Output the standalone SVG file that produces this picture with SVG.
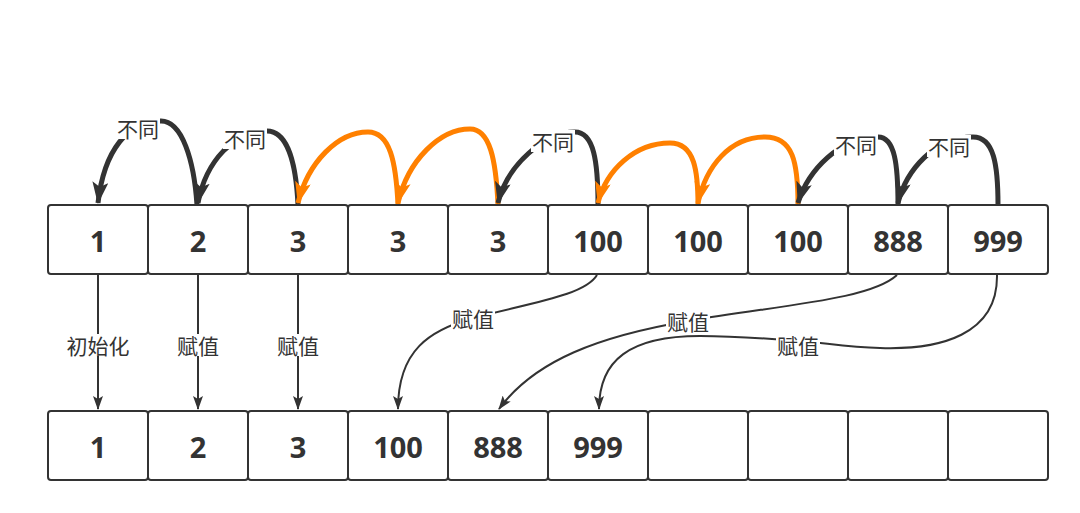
<svg xmlns="http://www.w3.org/2000/svg" width="1080" height="513" viewBox="0 0 1080 513">
<style>
.box{fill:#fff;stroke:#333;stroke-width:2}
.num{font-family:"Open Sans","Liberation Sans","Noto Sans CJK SC",sans-serif;font-weight:bold;font-size:29px;fill:#333;text-anchor:middle;dominant-baseline:central}
.lbl{font-family:"Noto Sans CJK SC","Noto Sans",sans-serif;font-size:21px;fill:#333;text-anchor:middle;dominant-baseline:central}
.lblbg{fill:#fff}
.arcb{fill:none;stroke:#333;stroke-width:5}
.arco{fill:none;stroke:#FF8000;stroke-width:5}
.thin{fill:none;stroke:#333;stroke-width:2}
</style>
<defs>
<marker id="ab" markerUnits="userSpaceOnUse" viewBox="0 0 22 16" markerWidth="22" markerHeight="16" refX="21" refY="8" orient="auto"><path d="M0,0 L22,8 L0,16 L5,8 Z" fill="#333"/></marker>
<marker id="ao" markerUnits="userSpaceOnUse" viewBox="0 0 22 16" markerWidth="22" markerHeight="16" refX="21" refY="8" orient="auto"><path d="M0,0 L22,8 L0,16 L5,8 Z" fill="#FF8000"/></marker>
<marker id="as" markerUnits="userSpaceOnUse" viewBox="0 0 14 10" markerWidth="14" markerHeight="10" refX="13" refY="5" orient="auto"><path d="M0,0 L14,5 L0,10 L3,5 Z" fill="#333"/></marker>
</defs>
<g id="connectors">
<path class="arcb" d="M197,205 C194,160 182,121 161,121 C128,121 104,150 98,203" marker-end="url(#ab)"/>
<path class="arcb" d="M298,205 C296,162 287,131 267,131 C235,131 206,160 198,203" marker-end="url(#ab)"/>
<path class="arco" d="M398,205 C396,162 390,132 368,132 C338,132 308,162 298,203" marker-end="url(#ao)"/>
<path class="arco" d="M498,205 C496,160 490,129 470,129 C440,129 408,160 398,203" marker-end="url(#ao)"/>
<path class="arcb" d="M598,205 C598,162 594,132 575,132 C545,132 507,165 498,203" marker-end="url(#ab)"/>
<path class="arco" d="M698,205 C698,172 695,143 670,143 C635,143 606,170 598,203" marker-end="url(#ao)"/>
<path class="arco" d="M798,205 C798,162 793,137 765,137 C730,137 706,166 698,203" marker-end="url(#ao)"/>
<path class="arcb" d="M898,205 C898,165 895,137 878,137 C840,137 808,170 798,203" marker-end="url(#ab)"/>
<path class="arcb" d="M998,205 C998,165 994,137 973,137 C935,137 906,170 898,203" marker-end="url(#ab)"/>
<path class="thin" d="M98,275 L98,409" marker-end="url(#as)"/>
<path class="thin" d="M198,275 L198,409" marker-end="url(#as)"/>
<path class="thin" d="M298,275 L298,409" marker-end="url(#as)"/>
<path class="thin" d="M597,275 C585,295 535,302 473,318 C430,330 398,350 398,409" marker-end="url(#as)"/>
<path class="thin" d="M897,275 C870,300 780,305 688,321 C600,336 535,360 499,409" marker-end="url(#as)"/>
<path class="thin" d="M997,275 C998,335 940,350 880,348 C845,347 820,342 798,341 C770,339 740,336 700,336 C630,336 599,360 599,409" marker-end="url(#as)"/>
<g id="labels">
<rect class="lblbg" x="116" y="117" width="44" height="22"/><text class="lbl" x="138" y="128">不同</text>
<rect class="lblbg" x="223" y="127" width="44" height="22"/><text class="lbl" x="245" y="138">不同</text>
<rect class="lblbg" x="531" y="130" width="44" height="22"/><text class="lbl" x="553" y="141">不同</text>
<rect class="lblbg" x="834" y="133" width="44" height="22"/><text class="lbl" x="856" y="144">不同</text>
<rect class="lblbg" x="927" y="135" width="44" height="22"/><text class="lbl" x="949" y="146">不同</text>
<rect class="lblbg" x="65" y="334" width="66" height="22"/><text class="lbl" x="98" y="345">初始化</text>
<rect class="lblbg" x="176" y="334" width="44" height="22"/><text class="lbl" x="198" y="345">赋值</text>
<rect class="lblbg" x="276" y="334" width="44" height="22"/><text class="lbl" x="298" y="345">赋值</text>
<rect class="lblbg" x="451" y="307" width="44" height="22"/><text class="lbl" x="473" y="318">赋值</text>
<rect class="lblbg" x="666" y="310" width="44" height="22"/><text class="lbl" x="688" y="321">赋值</text>
<rect class="lblbg" x="776" y="334" width="44" height="22"/><text class="lbl" x="798" y="345">赋值</text>
</g>
</g>
<g id="top-row">
<g id="t0"><rect class="box" x="48" y="205" width="100" height="69" rx="3"/><text class="num" x="98" y="240">1</text></g>
<g id="t1"><rect class="box" x="148" y="205" width="100" height="69" rx="3"/><text class="num" x="198" y="240">2</text></g>
<g id="t2"><rect class="box" x="248" y="205" width="100" height="69" rx="3"/><text class="num" x="298" y="240">3</text></g>
<g id="t3"><rect class="box" x="348" y="205" width="100" height="69" rx="3"/><text class="num" x="398" y="240">3</text></g>
<g id="t4"><rect class="box" x="448" y="205" width="100" height="69" rx="3"/><text class="num" x="498" y="240">3</text></g>
<g id="t5"><rect class="box" x="548" y="205" width="100" height="69" rx="3"/><text class="num" x="598" y="240">100</text></g>
<g id="t6"><rect class="box" x="648" y="205" width="100" height="69" rx="3"/><text class="num" x="698" y="240">100</text></g>
<g id="t7"><rect class="box" x="748" y="205" width="100" height="69" rx="3"/><text class="num" x="798" y="240">100</text></g>
<g id="t8"><rect class="box" x="848" y="205" width="100" height="69" rx="3"/><text class="num" x="898" y="240">888</text></g>
<g id="t9"><rect class="box" x="948" y="205" width="100" height="69" rx="3"/><text class="num" x="998" y="240">999</text></g>
</g>
<g id="bottom-row">
<g id="b0"><rect class="box" x="48" y="411" width="100" height="69" rx="3"/><text class="num" x="98" y="446">1</text></g>
<g id="b1"><rect class="box" x="148" y="411" width="100" height="69" rx="3"/><text class="num" x="198" y="446">2</text></g>
<g id="b2"><rect class="box" x="248" y="411" width="100" height="69" rx="3"/><text class="num" x="298" y="446">3</text></g>
<g id="b3"><rect class="box" x="348" y="411" width="100" height="69" rx="3"/><text class="num" x="398" y="446">100</text></g>
<g id="b4"><rect class="box" x="448" y="411" width="100" height="69" rx="3"/><text class="num" x="498" y="446">888</text></g>
<g id="b5"><rect class="box" x="548" y="411" width="100" height="69" rx="3"/><text class="num" x="598" y="446">999</text></g>
<g id="b6"><rect class="box" x="648" y="411" width="100" height="69" rx="3"/></g>
<g id="b7"><rect class="box" x="748" y="411" width="100" height="69" rx="3"/></g>
<g id="b8"><rect class="box" x="848" y="411" width="100" height="69" rx="3"/></g>
<g id="b9"><rect class="box" x="948" y="411" width="100" height="69" rx="3"/></g>
</g>
</svg>
